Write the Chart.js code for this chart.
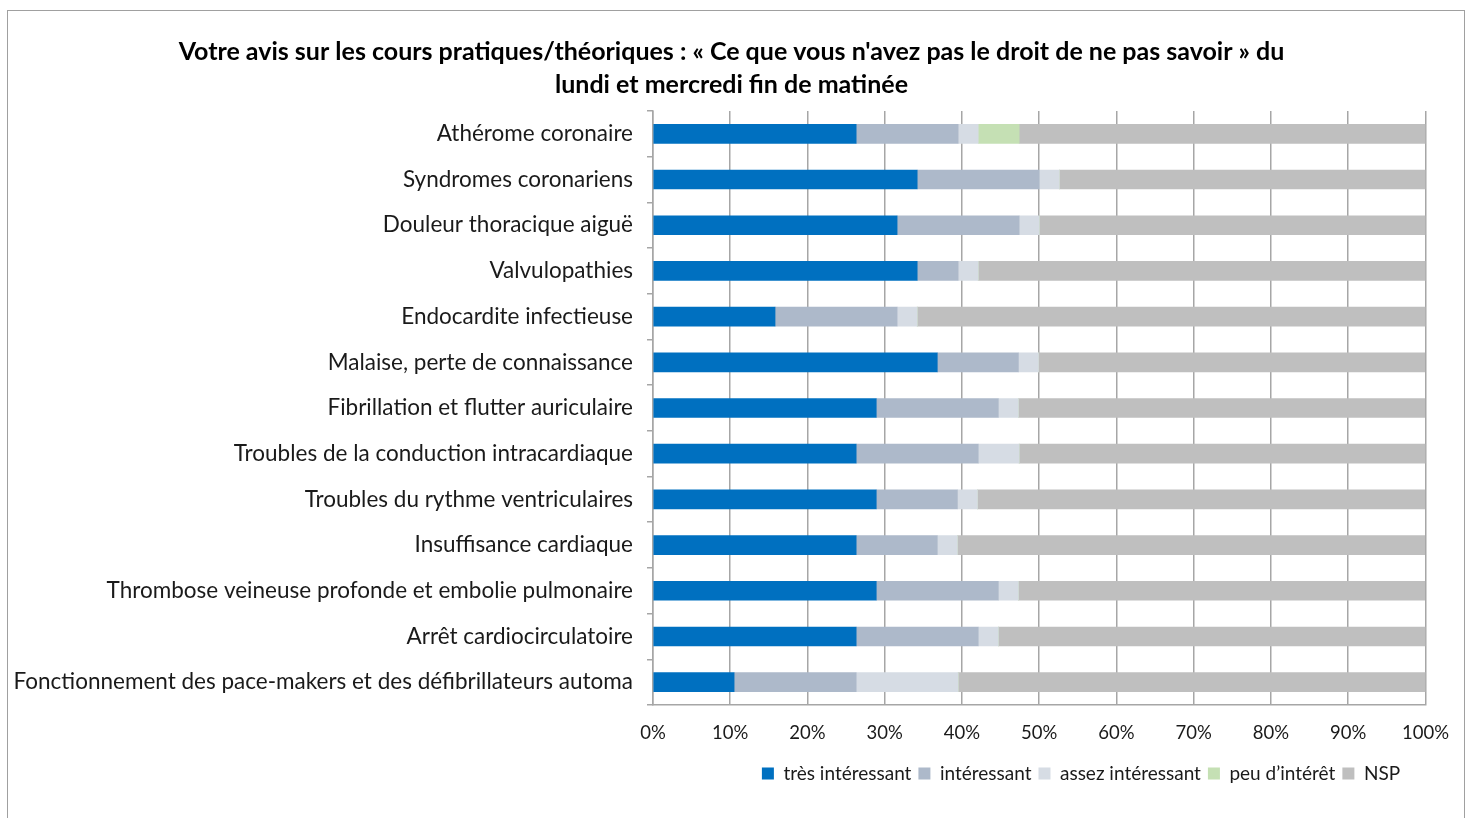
<!DOCTYPE html>
<html>
<head>
<meta charset="utf-8">
<script src="https://cdn.jsdelivr.net/npm/chart.js@4.4.1/dist/chart.umd.min.js"></script>
<style>
  body { margin: 0; background: #fff; }
  #frame {
    position: absolute; left: 7px; top: 10px;
    width: 1456px; height: 830px;
    border: 1px solid #a0a0a0;
  }
</style>
</head>
<body>
<div id="frame"><canvas id="courseChart" width="1458" height="792"></canvas></div>
<script>
const topics = [
    "Athérome coronaire",
    "Syndromes coronariens",
    "Douleur thoracique aiguë",
    "Valvulopathies",
    "Endocardite infectieuse",
    "Malaise, perte de connaissance",
    "Fibrillation et flutter auriculaire",
    "Troubles de la conduction intracardiaque",
    "Troubles du rythme ventriculaires",
    "Insuffisance cardiaque",
    "Thrombose veineuse profonde et embolie pulmonaire",
    "Arrêt cardiocirculatoire",
    "Fonctionnement des pace-makers et des défibrillateurs automa"
];

// percentages per answer
const tresInteressant = [26.3, 34.2, 31.6, 34.2, 15.8, 36.8, 28.9, 26.3, 28.9, 26.3, 28.9, 26.3, 10.5];
const interessant     = [13.2, 15.8, 15.8, 5.3, 15.8, 10.5, 15.8, 15.8, 10.5, 10.5, 15.8, 15.8, 15.8];
const assezInteressant = [2.6, 2.6, 2.6, 2.6, 2.6, 2.6, 2.6, 5.3, 2.6, 2.6, 2.6, 2.6, 13.2];
const peuInteret      = [5.3, 0, 0, 0, 0, 0, 0, 0, 0, 0, 0, 0, 0];
const nsp             = [52.6, 47.4, 50.0, 57.9, 65.8, 50.0, 52.6, 52.6, 57.9, 60.5, 52.6, 55.3, 60.5];

const xTicks = [0, 10, 20, 30, 40, 50, 60, 70, 80, 90, 100];

const FONT = "Lato, 'Open Sans', sans-serif";
const GRID = '#a6a6a6';

// move the legend under the right part of the plot, like the original
const legendShift = {
    id: 'legendShift',
    afterLayout(chart) {
        const lg = chart.legend;
        const target = 1073;
        const dx = target - (lg.left + lg.right) / 2;
        lg.left += dx;
        lg.right += dx;
    }
};

function bar(label, data, color) {
    return {
        label: label,
        data: data,
        backgroundColor: color,
        borderWidth: 0,
        barThickness: 19
    };
}

new Chart(document.getElementById('courseChart').getContext('2d'), {
    type: 'bar',
    data: {
        labels: topics,
        datasets: [
            bar('très intéressant', tresInteressant, '#0070c0'),
            bar('intéressant', interessant, '#adb9ca'),
            bar('assez intéressant', assezInteressant, '#d6dce4'),
            bar('peu d\u2019intérêt', peuInteret, '#c5e0b4'),
            bar('NSP', nsp, '#bfbfbf')
        ]
    },
    options: {
        indexAxis: 'y',
        responsive: false,
        animation: false,
        layout: {
            padding: { top: 24, right: 15, left: 4, bottom: 10 }
        },
        plugins: {
            title: {
                display: true,
                text: [
                    "Votre avis sur les cours pratiques/théoriques : « Ce que vous n'avez pas le droit de ne pas savoir » du",
                    "lundi et mercredi fin de matinée"
                ],
                color: '#000',
                font: { family: FONT, size: 25, weight: 'bold', lineHeight: 1.32 },
                padding: { top: 0, bottom: 10 }
            },
            legend: {
                position: 'bottom',
                labels: {
                    color: '#1a1a1a',
                    boxWidth: 12,
                    boxHeight: 12,
                    padding: 7,
                    font: { family: FONT, size: 19 }
                }
            },
            tooltip: { enabled: false }
        },
        scales: {
            x: {
                stacked: true,
                min: 0,
                max: 100,
                afterBuildTicks: axis => {
                    axis.ticks = xTicks.map(v => ({ value: v }));
                },
                afterFit: scale => { scale.height = 52; },
                ticks: {
                    color: '#1a1a1a',
                    font: { family: FONT, size: 18.5 },
                    padding: 17,
                    callback: v => v + '%'
                },
                grid: {
                    color: GRID,
                    lineWidth: 1.5,
                    drawTicks: false
                },
                border: { color: GRID, width: 1.5 }
            },
            y: {
                stacked: true,
                afterFit: scale => { scale.width = 641; },
                ticks: {
                    color: '#1a1a1a',
                    font: { family: FONT, size: 22.5 },
                    padding: 14
                },
                grid: {
                    offset: true,
                    drawOnChartArea: false,
                    drawTicks: true,
                    tickLength: 6,
                    color: GRID,
                    lineWidth: 1.5
                },
                border: { color: GRID, width: 1.5 }
            }
        }
    },
    plugins: [legendShift]
});
</script>
</body>
</html>
